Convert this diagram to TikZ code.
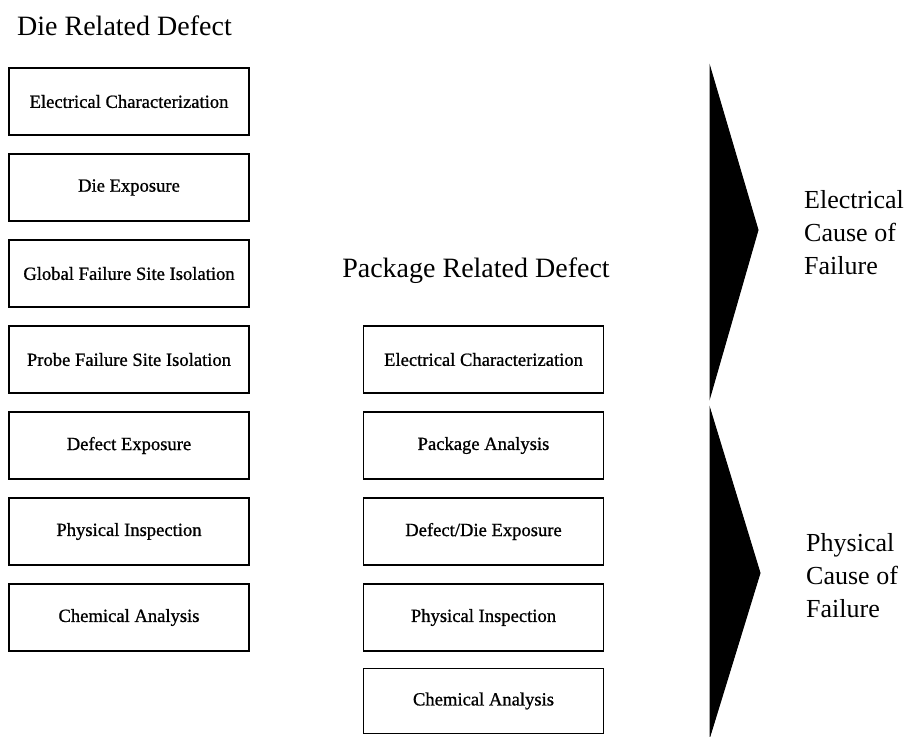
\documentclass[tikz,border=0pt]{standalone}
\usepackage{fontspec}
\setmainfont{Liberation Serif}
\newfontfamily\boxfont[FakeBold=0.9]{Liberation Serif}
\begin{document}
\begin{tikzpicture}[x=1pt,y=-1pt,
  stepbox/.style={draw=black, line width=1.6pt, minimum width=240pt, minimum height=67pt,
    inner sep=0pt, font=\boxfont\fontsize{18.6}{22}\selectfont},
  heading/.style={inner sep=0pt, font=\fontsize{28}{32}\selectfont},
  causelabel/.style={inner sep=0pt, align=left, anchor=west, font=\fontsize{26}{33}\selectfont},
  wedge/.style={fill=black, draw=black, line width=1pt, line join=miter}]
\useasboundingbox (0,0) rectangle (912,736);

% column headings
\node[heading, anchor=base west] (dieTitle) at (17,35) {Die Related Defect};
\node[heading, anchor=base] (pkgTitle) at (476,277) {Package Related Defect};

% die related steps
\node[stepbox] (d1) at (129,101.5) {Electrical Characterization};
\node[stepbox] (d2) at (129,187.5) {Die Exposure};
\node[stepbox] (d3) at (129,273.5) {Global Failure Site Isolation};
\node[stepbox] (d4) at (129,359.5) {Probe Failure Site Isolation};
\node[stepbox] (d5) at (129,445.5) {Defect Exposure};
\node[stepbox] (d6) at (129,531.5) {Physical Inspection};
\node[stepbox] (d7) at (129,617.5) {Chemical Analysis};

% package related steps
\node[stepbox] (p1) at (483.5,359.5) {Electrical Characterization};
\node[stepbox] (p2) at (483.5,445.5) {Package Analysis};
\node[stepbox] (p3) at (483.5,531.5) {Defect/Die Exposure};
\node[stepbox] (p4) at (483.5,617.5) {Physical Inspection};
\node[stepbox, minimum height=65pt] (p5) at (483.5,701) {Chemical Analysis};

% bracketing wedges
\draw[wedge] (710,67) -- (758,230) -- (710,397) -- cycle;
\draw[wedge] (710,409) -- (760,573) -- (710,736) -- cycle;

% cause labels
\node[causelabel] (elec) at (804,233) {Electrical\\Cause of\\Failure};
\node[causelabel] (phys) at (806,576) {Physical\\Cause of\\Failure};
\end{tikzpicture}
\end{document}
